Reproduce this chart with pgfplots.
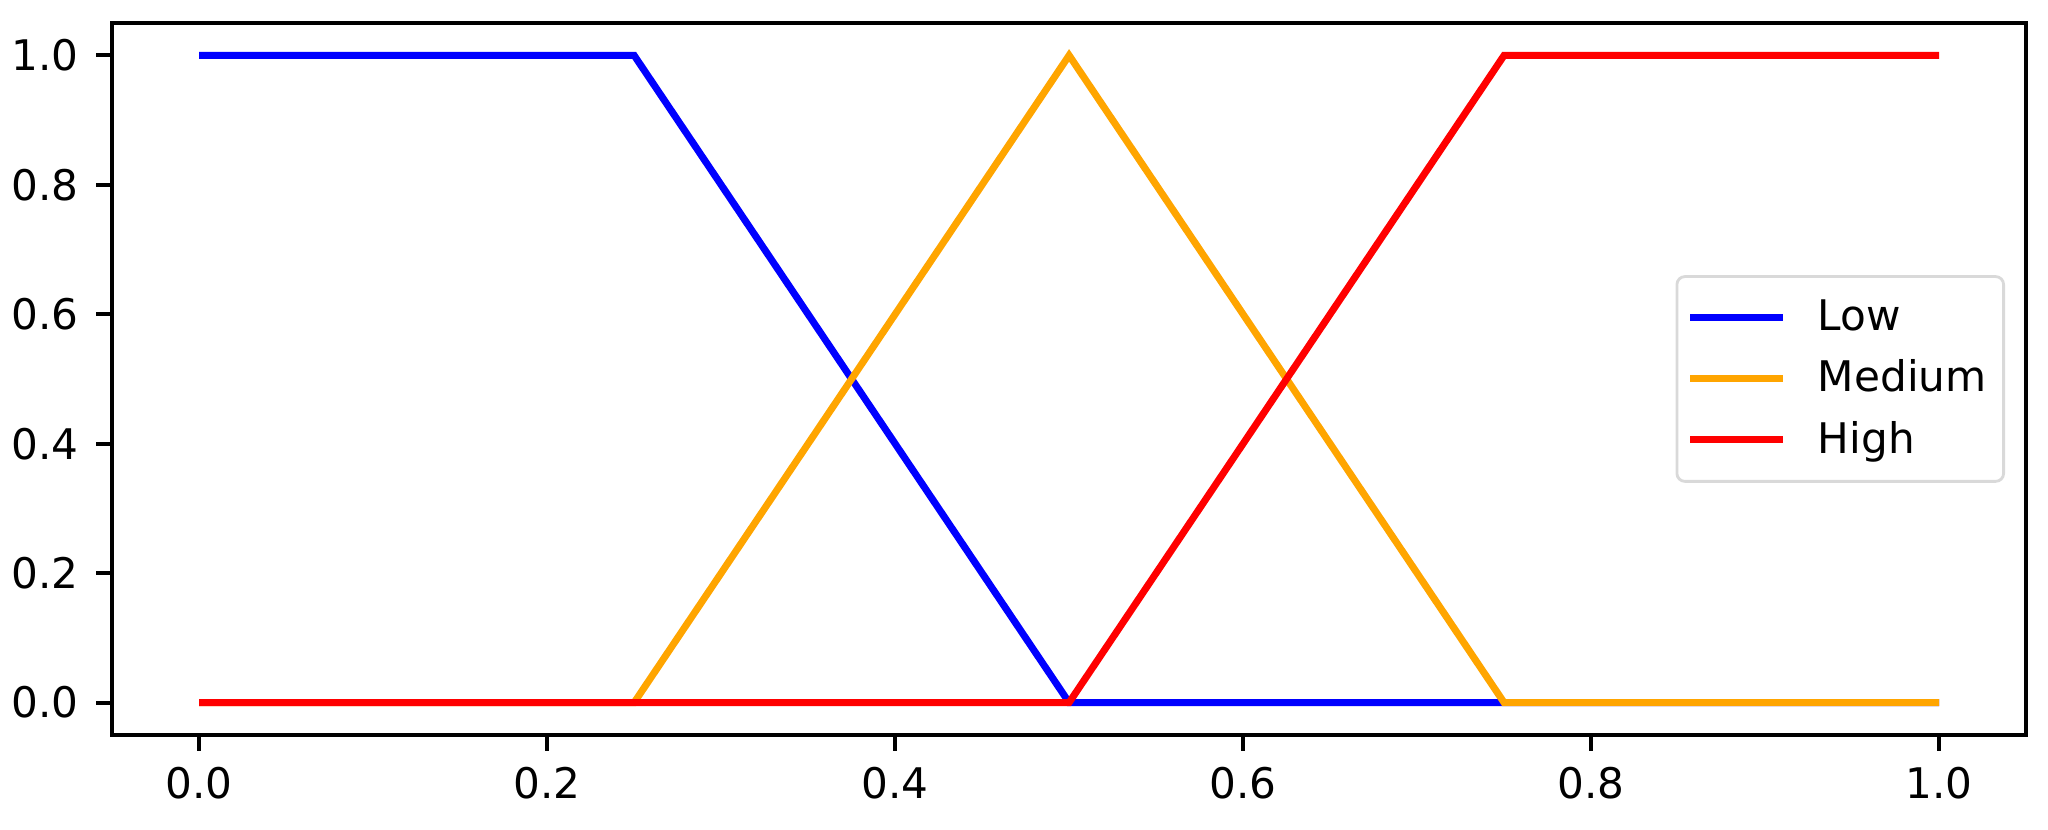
\documentclass[border=0pt]{standalone}
\usepackage{fontspec}
\setmainfont{DejaVu Sans}
\usepackage{pgfplots}
\pgfplotsset{compat=1.18}

\definecolor{cLow}{RGB}{0,0,255}
\definecolor{cMed}{RGB}{255,165,0}
\definecolor{cHigh}{RGB}{255,0,0}

\begin{document}
\begin{tikzpicture}[x=1cm,y=1cm]
% page frame, 1 px = 0.01 cm
\path (0,0) rectangle (20.48,8.30);
\begin{axis}[
    at={(1.12cm,0.95cm)}, anchor=south west,
    scale only axis,
    width=19.14cm, height=7.12cm,
    xmin=-0.05, xmax=1.05,
    ymin=-0.05, ymax=1.05,
    xtick={0,0.2,0.4,0.6,0.8,1.0},
    ytick={0,0.2,0.4,0.6,0.8,1.0},
    /pgf/number format/assume math mode=true,
    /pgf/number format/fixed,
    /pgf/number format/fixed zerofill,
    /pgf/number format/precision=1,
    tick label style={font=\fontsize{12}{14}\selectfont},
    tick align=outside,
    tick pos=left,
    major tick length=0.16cm,
    every tick/.style={black, line width=1.1pt},
    axis line style={line width=1.1pt},
    xticklabel style={yshift=-0.04cm},
    yticklabel style={xshift=-0.05cm},
    legend style={
        at={(rel axis cs:1,0.5)}, anchor=east, xshift=-0.21cm,
        draw=black!15, line width=0.8pt, rounded corners=0.08cm,
        font=\fontsize{12}{14}\selectfont,
        inner xsep=0.1cm, inner ysep=0.16cm,
        row sep=0.1cm,
        /tikz/every odd column/.append style={column sep=0.24cm},
    },
    legend cell align=left,
    legend image code/.code={
        \draw[#1, line width=2pt] (0cm,0cm) -- (0.93cm,0cm);
    },
]
\addplot[cLow, line width=2pt] coordinates {
    (0,1) (0.25,1) (0.5,0) (0.75,0) (1,0)
};
\addlegendentry{Low}
\addplot[cMed, line width=2pt] coordinates {
    (0,0) (0.25,0) (0.5,1) (0.75,0) (1,0)
};
\addlegendentry{Medium}
\addplot[cHigh, line width=2pt] coordinates {
    (0,0) (0.25,0) (0.5,0) (0.75,1) (1,1)
};
\addlegendentry{High}
\end{axis}
\end{tikzpicture}
\end{document}
